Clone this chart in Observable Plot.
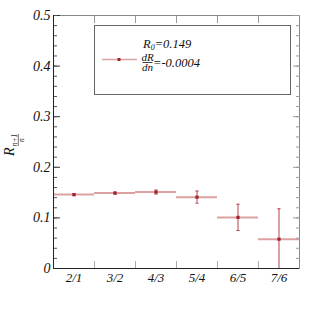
<!DOCTYPE html>
<html><head><meta charset="utf-8">
<script src="https://cdn.jsdelivr.net/npm/d3@7"></script>
<script src="https://cdn.jsdelivr.net/npm/@observablehq/plot@0.6"></script>
<style>
body{margin:0;background:#fff}
#chart svg text, #chart svg tspan { font-family: "Liberation Serif", "Times New Roman", serif !important; font-style: italic !important; }
</style>
</head><body><div id="chart"></div>
<script>
const categories = ["2/1", "3/2", "4/3", "5/4", "6/5", "7/6"];
const ratios = [0.146, 0.149, 0.151, 0.141, 0.101, 0.058];
const errors = [0.002, 0.002, 0.004, 0.012, 0.026, 0.060];
const majorY = [0, 0.1, 0.2, 0.3, 0.4, 0.5];
const minorY = d3.range(0, 0.5001, 0.02);
const binEdges = [1, 2, 3, 4, 5];
const legendR0 = "0.149";
const legendSlope = "-0.0004";

const data = categories.map((c, i) => ({
  cat: c, x0: i, x1: i + 1, xc: i + 0.5, r: ratios[i],
  lo: Math.max(0, ratios[i] - errors[i]), hi: ratios[i] + errors[i],
  clipped: ratios[i] - errors[i] <= 0
}));

const font = "Liberation Serif";
const cap = { draw(ctx, size) { const r = Math.sqrt(size / Math.PI); ctx.moveTo(-r, 0); ctx.lineTo(r, 0); } };
const errColor = "#b4444c";

const plot = Plot.plot({
  width: 316, height: 316,
  marginLeft: 53, marginRight: 17, marginTop: 15, marginBottom: 48,
  x: { domain: [0, 6], axis: null, label: null },
  y: { domain: [0, 0.5], axis: null, label: null },
  marks: [
    Plot.frame({ stroke: "#888" }),
    Plot.ruleY(data, { y: "r", x1: "x0", x2: "x1", stroke: "#dca2a2", strokeWidth: 2 }),
    Plot.ruleX(data, { x: "xc", y1: "lo", y2: "hi", stroke: errColor, strokeWidth: 1 }),
    Plot.dot(data, { x: "xc", y: "hi", symbol: cap, r: 1.6, stroke: errColor, strokeWidth: 1 }),
    Plot.dot(data.filter(d => !d.clipped), { x: "xc", y: "lo", symbol: cap, r: 1.6, stroke: errColor, strokeWidth: 1 }),
    Plot.dot(data, { x: "xc", y: "r", symbol: "square", r: 1.8, fill: "#a0222c" }),
    Plot.axisY(majorY, { anchor: "left", tickSize: -7, text: null, stroke: "#333", label: null }),
    Plot.axisY(minorY, { anchor: "left", tickSize: -4, text: null, stroke: "#555", label: null }),
    Plot.axisY(majorY, { anchor: "right", tickSize: -7, text: null, stroke: "#999", label: null }),
    Plot.axisY(minorY, { anchor: "right", tickSize: -4, text: null, stroke: "#999", label: null }),
    Plot.axisY(majorY, { anchor: "left", tickSize: 0, tickPadding: 3, tickFormat: d3.format("~g"),
      fontSize: 14, fontStyle: "italic", fontFamily: font, fill: "#111", label: null }),
    Plot.axisX(binEdges, { anchor: "top", tickSize: -7, text: null, stroke: "#999", label: null }),
    Plot.axisX(binEdges, { anchor: "bottom", tickSize: -7, text: null, stroke: "#aaa", label: null }),
    Plot.axisX(data.map(d => d.xc), { anchor: "bottom", tickSize: 0, tickPadding: 4,
      tickFormat: v => categories[Math.floor(v)], fontSize: 13, fontStyle: "italic", fontFamily: font, fill: "#111", label: null }),
    Plot.ruleX([0], { stroke: "#222" }),
    Plot.ruleY([0], { stroke: "#222" })
  ]
});
document.getElementById("chart").appendChild(plot);

// Legend and y-axis title
const svg = d3.select(plot);
const g = svg.append("g").attr("fill", "#111").attr("text-anchor", "start");
g.append("rect").attr("x", 94.5).attr("y", 25.5).attr("width", 196).attr("height", 69)
  .attr("fill", "white").attr("stroke", "#666");
g.append("line").attr("x1", 102).attr("x2", 137).attr("y1", 59.5).attr("y2", 59.5)
  .attr("stroke", "#dca2a2").attr("stroke-width", 1.5);
g.append("rect").attr("x", 117.5).attr("y", 58).attr("width", 3).attr("height", 3).attr("fill", "#a0222c");
const t1 = g.append("text").attr("x", 143).attr("y", 47.5).attr("font-size", 12.5);
t1.append("tspan").text("R");
t1.append("tspan").attr("font-size", 8).attr("dy", 2.5).text("0");
t1.append("tspan").attr("dy", -2.5).text("=" + legendR0);
g.append("text").attr("x", 147.5).attr("y", 60.5).attr("font-size", 11).attr("text-anchor", "middle").text("dR");
g.append("line").attr("x1", 142.5).attr("x2", 152.5).attr("y1", 62.5).attr("y2", 62.5).attr("stroke", "#111").attr("stroke-width", 0.8);
g.append("text").attr("x", 147.5).attr("y", 71).attr("font-size", 11).attr("text-anchor", "middle").text("dn");
g.append("text").attr("x", 153).attr("y", 66.5).attr("font-size", 12.5).text("=" + legendSlope);

const yl = g.append("g").attr("transform", "translate(13.5,156) rotate(-90)");
yl.append("text").attr("x", 0).attr("y", 0).attr("font-size", 14).text("R");
yl.append("text").attr("x", 16).attr("y", 3.4).attr("font-size", 7.5).attr("text-anchor", "middle").text("n+1");
yl.append("line").attr("x1", 10).attr("x2", 22).attr("y1", 4.8).attr("y2", 4.8).attr("stroke", "#111").attr("stroke-width", 0.6);
yl.append("text").attr("x", 16).attr("y", 10).attr("font-size", 7.5).attr("text-anchor", "middle").text("n");
</script></body></html>
